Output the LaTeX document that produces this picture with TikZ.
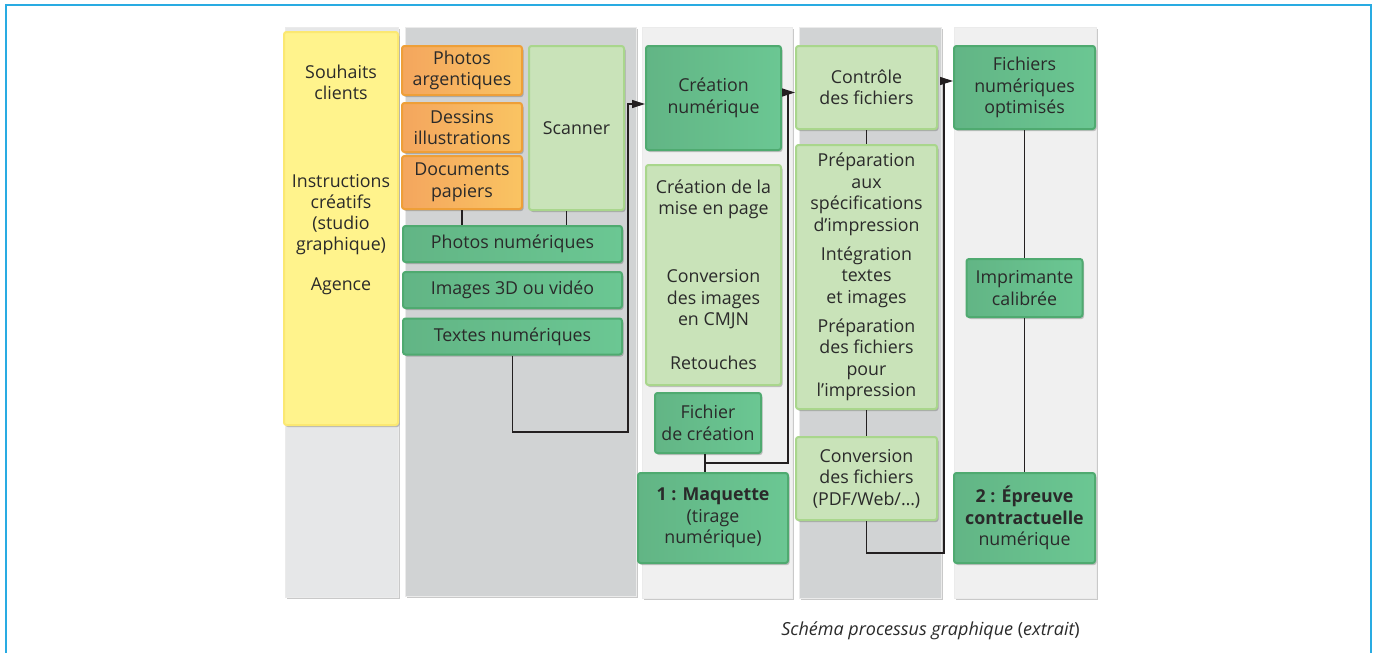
\documentclass[tikz,border=0pt]{standalone}
\usepackage{fontspec}
\setmainfont{Open Sans}
\usetikzlibrary{arrows.meta,shadows}
\definecolor{framecol}{HTML}{29ABE2}
\definecolor{txt}{HTML}{2A2A2A}
\definecolor{colA}{HTML}{E6E7E8}
\definecolor{colB}{HTML}{D1D3D4}
\definecolor{colC}{HTML}{F0F0F0}
\definecolor{yel}{HTML}{FFF38C}
\definecolor{yelB}{HTML}{FBE872}
\definecolor{orL}{HTML}{F4A65E}
\definecolor{orR}{HTML}{FAC462}
\definecolor{orB}{HTML}{EE9F38}
\definecolor{dkL}{HTML}{62B585}
\definecolor{dkR}{HTML}{6BC793}
\definecolor{dkB}{HTML}{4FAA70}
\definecolor{lt}{HTML}{C9E3B9}
\definecolor{ltB}{HTML}{A9D68C}
\definecolor{lineC}{HTML}{231F20}
\tikzset{
  myshadow/.style={drop shadow={shadow xshift=1.5pt,shadow yshift=-2pt,opacity=0.3,fill=black!70}},
  colbg/.style={rectangle,inner sep=0pt,draw=white!92!black,line width=0.8pt,myshadow},
  box/.style={rectangle,rounded corners=2.5pt,align=center,inner sep=0pt,text=txt,
    font=\fontsize{17.8}{21.5}\selectfont,line width=2pt,myshadow},
  dkbox/.style={box,draw=dkB,left color=dkL,right color=dkR},
  ltbox/.style={box,draw=ltB,fill=lt},
  orbox/.style={box,draw=orB,left color=orL,right color=orR},
  ybox/.style={box,draw=yelB,fill=yel},
  conn/.style={draw=lineC,line width=1.2pt},
  arr/.style={conn,-{Triangle[length=13pt,width=8pt]}},
  plain/.style={align=center,inner sep=0pt,text=txt,font=\fontsize{17.8}{21}\selectfont}
}
\begin{document}
\begin{tikzpicture}[x=1pt,y=-1pt]
\useasboundingbox (0,0) rectangle (1376,653);
\draw[framecol,line width=1.5pt] (6,653) -- (6,5) -- (1371,5) -- (1371,653);
% columns
\node[colbg,fill=colA,minimum width=113pt,minimum height=570pt] (col1) at (341.5,312) {};
\node[colbg,fill=colB,minimum width=231pt,minimum height=569pt] (col2) at (520.5,311.5) {};
\node[colbg,fill=colC,minimum width=150pt,minimum height=571pt] (col3) at (717,312.5) {};
\node[colbg,fill=colB,minimum width=142pt,minimum height=571pt] (col4) at (870,312.5) {};
\node[colbg,fill=colC,minimum width=142pt,minimum height=571pt] (col5) at (1025,312.5) {};
% column 1
\node[ybox,minimum width=114pt,minimum height=393pt] (yellow) at (341,228.5) {};
\node[plain] (ytext) at (341,180) {Souhaits\\clients\\[67pt]Instructions\\créatifs\\(studio\\graphique)\\[19pt]Agence};
% column 2
\node[orbox,minimum width=120pt,minimum height=49pt] (photosarg) at (462,70.5) {Photos\\argentiques};
\node[orbox,minimum width=120pt,minimum height=49pt] (dessins) at (462,127.5) {Dessins\\illustrations};
\node[orbox,minimum width=120pt,minimum height=53pt] (docs) at (462,182.5) {Documents\\papiers};
\node[ltbox,minimum width=95pt,minimum height=164pt] (scanner) at (576.5,128) {Scanner};
\node[dkbox,minimum width=219pt,minimum height=36pt] (photosnum) at (512.5,244) {Photos numériques};
\node[dkbox,minimum width=219pt,minimum height=36pt] (images3d) at (512.5,290) {Images 3D ou vidéo};
\node[dkbox,minimum width=219pt,minimum height=36pt] (textes) at (512.5,336.5) {Textes numériques};
% column 3
\node[dkbox,minimum width=135pt,minimum height=104pt] (creanum) at (713.5,98) {Création\\numérique};
\node[ltbox,minimum width=135pt,minimum height=220pt] (creamise) at (713.5,275) {Création de la\\mise en page\\[46.5pt]Conversion\\des images\\en CMJN\\[22.5pt]Retouches};
\node[dkbox,minimum width=106pt,minimum height=60pt] (fichcrea) at (708,423) {Fichier\\de création};
\node[dkbox,minimum width=150pt,minimum height=90pt] (maquette) at (713,518) {\textbf{1 : Maquette}\\(tirage\\numérique)};
% column 4
\node[ltbox,minimum width=141pt,minimum height=83pt] (controle) at (866.5,87.5) {Contrôle\\des fichiers};
\node[ltbox,minimum width=141pt,minimum height=264pt] (prepa) at (866.5,277) {Préparation\\aux\\spécifications\\d'impression\\[7.5pt]Intégration\\textes\\et images\\[7.5pt]Préparation\\des fichiers\\pour\\l'impression};
\node[ltbox,minimum width=141pt,minimum height=83pt] (convf) at (866.5,478.5) {Conversion\\des fichiers\\(PDF/Web/…)};
% column 5
\node[dkbox,minimum width=141pt,minimum height=83pt] (fichnum) at (1024.5,87.5) {Fichiers\\numériques\\optimisés};
\node[dkbox,minimum width=116pt,minimum height=58pt] (imprim) at (1024.5,288) {Imprimante\\calibrée};
\node[dkbox,minimum width=141pt,minimum height=90pt] (epreuve) at (1024.5,518) {\textbf{2 : Épreuve}\\\textbf{contractuelle}\\numérique};
% caption
\node[anchor=east,inner sep=0pt,text=txt,font=\fontsize{18}{21}\selectfont] (caption) at (1080,631) {\itshape Schéma processus graphique \upshape(\itshape extrait\upshape)};
% connectors
\coordinate (sc) at ([xshift=-10pt]scanner.south);
\draw[conn] (docs.south) -- (docs.south |- photosnum.north);
\draw[conn] (sc) -- (sc |- photosnum.north);
\coordinate (b1) at (628,432);
\coordinate (a1) at ([yshift=-6pt]creanum.west);
\draw[arr] (textes.south) |- (b1) -- (b1 |- a1) -- (a1);
\coordinate (fc) at ([xshift=-3pt]fichcrea.south);
\coordinate (j2) at (fc |- 0,463);
\coordinate (b2) at (788,463);
\coordinate (a2) at ([yshift=-5pt]controle.west);
\draw[conn] (fc) -- (fc |- maquette.north);
\draw[arr] (j2) -- (b2) -- (b2 |- a2) -- (a2);
\draw[conn] (controle.south) -- (prepa.north);
\draw[conn] (prepa.south) -- (convf.north);
\coordinate (b3) at (944,553);
\coordinate (a3) at ([yshift=6.5pt]fichnum.west);
\draw[arr] (convf.south) |- (b3) -- (b3 |- a3) -- (a3);
\draw[conn] (fichnum.south) -- (imprim.north);
\draw[conn] (imprim.south) -- (epreuve.north);
\end{tikzpicture}
\end{document}
